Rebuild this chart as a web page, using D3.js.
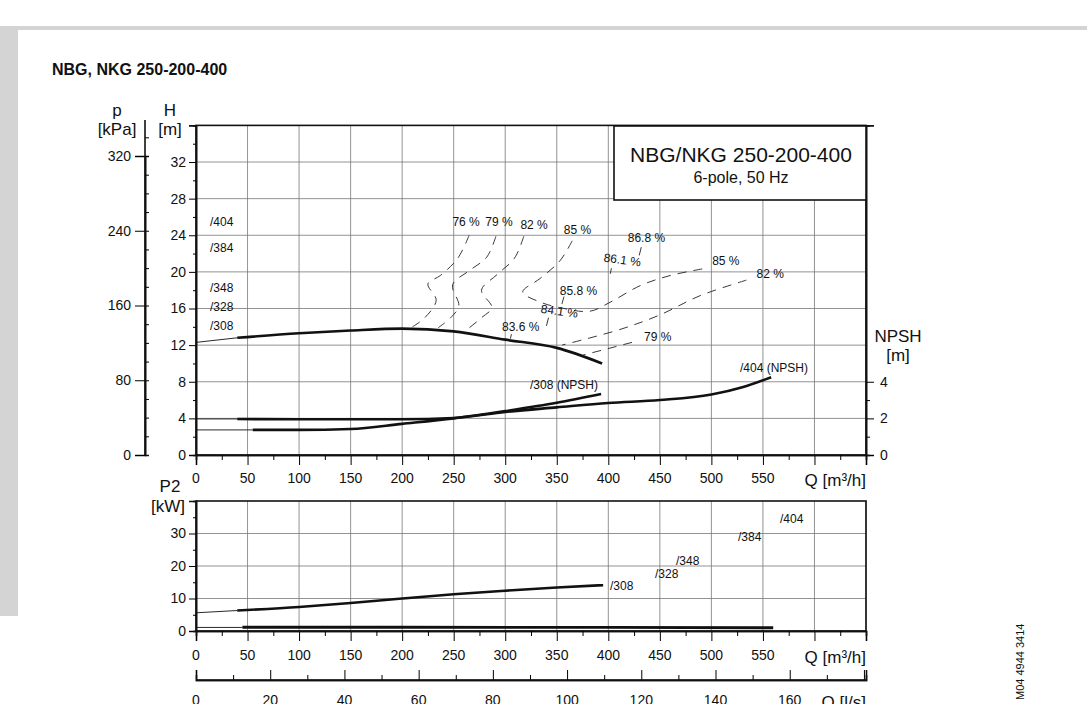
<!DOCTYPE html><html><head><meta charset="utf-8"><script src="https://cdn.jsdelivr.net/npm/d3@7"></script>
<style>body{margin:0;background:#fff}text{font-family:"Liberation Sans",Arial,sans-serif;fill:#111}</style></head><body><svg id="c" width="1087" height="704"></svg><script>
const qTicks=[0,50,100,150,200,250,300,350,400,450,500,550];
const hTicks=[0,4,8,12,16,20,24,28,32];
const pTicks=[0,80,160,240,320];
const npshTicks=[0,2,4];
const p2Ticks=[0,10,20,30];
const lsTicks=[0,20,40,60,80,100,120,140,160];
// H curve /308 [Q,H]
const hThin=[[0,12.3],[40,12.8]];
const hCurve=[[40,12.8],[100,13.3],[150,13.6],[200,13.8],[250,13.5],[300,12.6],[350,11.7],[394,10.0]];
// NPSH [Q,m]
const npsh404Thin=[[0,1.97],[40,1.97]];
const npsh404=[[40,1.97],[100,1.95],[200,1.95],[250,2.02],[300,2.35],[350,2.6],[400,2.84],[450,3.0],[500,3.3],[530,3.7],[558,4.25]];
const npsh308Thin=[[0,1.37],[55,1.37]];
const npsh308=[[55,1.37],[100,1.37],[150,1.42],[200,1.7],[250,2.0],[300,2.4],[350,2.85],[393,3.33]];
// P2 [Q,kW]
const p2Thin=[[0,5.6],[40,6.3]];
const p2_308=[[40,6.3],[100,7.4],[150,8.6],[200,10],[250,11.3],[300,12.4],[350,13.4],[395,14.1]];
const p2LowThin=[[0,1.1],[45,1.1]];
const p2Low=[[45,1.15],[200,1.15],[400,1.1],[560,1.0]];
// efficiency iso-curves [Q,H]
const eff=[
 [[265,24.0],[254,21.5],[237,19.6],[225,18.7],[233,16.9],[222,15.0],[210,14.0]],
 [[291,23.9],[282,21.6],[266,20.2],[249,18.6],[255,16.3],[248,15.1],[235,13.9]],
 [[318,23.9],[309,21.5],[292,19.7],[277,18.0],[287,16.1],[277,15.0],[263,13.7]],
 [[365,23.4],[353,21.2],[334,19.3],[317,17.8],[334,16.7],[353,16.1],[382,15.7],[402,16.7],[431,18.5],[460,19.6],[495,20.4]],
 [[534,19.1],[489,17.4],[450,15.3],[411,13.7],[355,12.0]],
 [[423,12.3],[375,10.9]],
 [[432,22.7],[430,21.8]],[[403,20.4],[402,19.8]],[[357,17.3],[355,16.5]],[[342,15.0],[340,14.1]],[[306,13.2],[305,12.7]]
];
const effLabels=[["76 %",262,25.5,0],["79 %",294,25.5,0],["82 %",328,25.1,0],["85 %",370,24.6,0],["86.8 %",437,23.7,0],["86.1 %",413,21.3,8],["85 %",514,21.2,0],["82 %",557,19.8,0],["85.8 %",371,17.9,0],["84.1 %",352,15.7,8],["83.6 %",315,14.0,0],["79 %",448,12.9,0]];
const impH=["/404","/384","/348","/328","/308"];
const impHy=[222,248,288,307,326];
const impP=[["/404",780,519],["/384",738,537],["/348",676,561],["/328",655,574],["/308",610,586]];

const svg=d3.select("#c");
const X=d3.scaleLinear().domain([0,650]).range([196,866]);
const Y=d3.scaleLinear().domain([0,36]).range([455,125.4]);
const YP=d3.scaleLinear().domain([0,320]).range([455,156]);
const YN=d3.scaleLinear().domain([0,18]).range([455,125.4]);
const Y2=d3.scaleLinear().domain([0,40]).range([631,501]);
const XL=d3.scaleLinear().domain([0,650/3.6]).range([196,866]);

svg.append("rect").attr("x",0).attr("y",26).attr("width",1087).attr("height",4).attr("fill","#d4d4d4");
svg.append("rect").attr("x",0).attr("y",30).attr("width",18).attr("height",586).attr("fill","#d4d4d4");
svg.append("text").attr("x",52).attr("y",75).attr("font-size",16).attr("font-weight","bold").text("NBG, NKG 250-200-400");

function grid(y,yt){
  const g=svg.append("g").attr("stroke","#777").attr("stroke-width",0.8);
  d3.range(50,651,50).forEach(q=>g.append("line").attr("x1",X(q)).attr("x2",X(q)).attr("y1",y.range()[0]).attr("y2",y.range()[1]));
  yt.forEach(v=>g.append("line").attr("x1",196).attr("x2",866).attr("y1",y(v)).attr("y2",y(v)));
}
grid(Y,hTicks);
grid(Y2,p2Ticks);
[Y,Y2].forEach(y=>svg.append("rect").attr("x",196).attr("y",y.range()[1]).attr("width",670).attr("height",y.range()[0]-y.range()[1]).attr("fill","none").attr("stroke","#111").attr("stroke-width",1.6));

svg.append("g").attr("transform","translate(196,0)").call(d3.axisLeft(Y).tickValues(hTicks).tickSize(7).tickFormat(d3.format("d")));
svg.append("g").attr("transform","translate(196,0)").call(d3.axisLeft(Y).tickValues(d3.range(2,36,4)).tickSize(3).tickFormat(""));
svg.append("g").attr("transform","translate(145,0)").call(d3.axisLeft(YP).tickValues(pTicks).tickSize(10).tickPadding(4));
svg.append("g").attr("transform","translate(145,0)").call(d3.axisRight(YP).tickValues(d3.range(20,341,20)).tickSize(4).tickFormat(""));
svg.append("line").attr("x1",145).attr("x2",145).attr("y1",120).attr("y2",455).attr("stroke","#111").attr("stroke-width",1.6);
svg.append("g").attr("transform","translate(866,0)").call(d3.axisRight(YN).tickValues(npshTicks).tickSize(8).tickPadding(6));
svg.append("g").attr("transform","translate(866,0)").call(d3.axisRight(YN).tickValues([1,3]).tickSize(4).tickFormat(""));
function xAxis(y,lab){
 svg.append("g").attr("transform",`translate(0,${y})`).call(d3.axisBottom(X).tickValues(qTicks.concat([600,650])).tickSize(10).tickFormat(""));
 svg.append("g").attr("transform",`translate(0,${y})`).call(d3.axisBottom(X).tickValues(d3.range(25,650,50)).tickSize(5).tickFormat(""));
 qTicks.forEach(q=>svg.append("text").attr("x",X(q)).attr("y",lab).attr("text-anchor","middle").attr("font-size",14).text(q));
 svg.append("text").attr("x",866).attr("y",lab+3).attr("text-anchor","end").attr("font-size",17).text("Q [m³/h]");
}
xAxis(455,483);xAxis(631,660);
svg.append("g").attr("transform","translate(196,0)").call(d3.axisLeft(Y2).tickValues(p2Ticks).tickSize(7).tickFormat(d3.format("d")));
svg.append("g").attr("transform","translate(196,0)").call(d3.axisLeft(Y2).tickValues([5,15,25,35]).tickSize(3).tickFormat(""));
svg.append("g").attr("transform","translate(0,680)").call(d3.axisTop(XL).tickValues(lsTicks.concat([180])).tickSize(10).tickFormat(""));
svg.append("g").attr("transform","translate(0,680)").call(d3.axisTop(XL).tickValues(d3.range(10,180,20)).tickSize(5).tickFormat(""));
svg.append("line").attr("x1",196).attr("x2",866).attr("y1",680).attr("y2",680).attr("stroke","#111").attr("stroke-width",1.6);
lsTicks.forEach(v=>svg.append("text").attr("x",XL(v)).attr("y",705).attr("text-anchor","middle").attr("font-size",14).text(v));
svg.append("text").attr("x",866).attr("y",708).attr("text-anchor","end").attr("font-size",17).text("Q [l/s]");
svg.selectAll(".tick text").attr("font-size",14).attr("fill","#111");
svg.selectAll(".domain").attr("stroke","#111").attr("stroke-width",1.6);

[["p",117,116],["[kPa]",117,135],["H",170,116],["[m]",170,135],["NPSH",898,342],["[m]",898,361],["P2",170,492],["[kW]",168,512]].forEach(([t,x,y])=>svg.append("text").attr("x",x).attr("y",y).attr("text-anchor","middle").attr("font-size",17).text(t));

svg.append("rect").attr("x",614).attr("y",126).attr("width",252).attr("height",74).attr("fill","#fff").attr("stroke","#111").attr("stroke-width",1.6);
svg.append("text").attr("x",741).attr("y",162).attr("text-anchor","middle").attr("font-size",21).text("NBG/NKG 250-200-400");
svg.append("text").attr("x",741).attr("y",183).attr("text-anchor","middle").attr("font-size",16).text("6-pole, 50 Hz");

const lh=d3.line().x(d=>X(d[0])).y(d=>Y(d[1])).curve(d3.curveMonotoneX);
const ln=d3.line().x(d=>X(d[0])).y(d=>YN(d[1])).curve(d3.curveMonotoneX);
const l2=d3.line().x(d=>X(d[0])).y(d=>Y2(d[1])).curve(d3.curveMonotoneX);
const lc=d3.line().x(d=>X(d[0])).y(d=>Y(d[1])).curve(d3.curveCatmullRom);
function path(gen,d,w){svg.append("path").attr("d",gen(d)).attr("fill","none").attr("stroke","#111").attr("stroke-width",w);}
path(lh,hThin,0.9);path(lh,hCurve,2.6);
path(ln,npsh404Thin,0.9);path(ln,npsh404,2.6);
path(ln,npsh308Thin,0.9);path(ln,npsh308,2.6);
path(l2,p2Thin,0.9);path(l2,p2_308,2.6);
path(l2,p2LowThin,0.9);path(l2,p2Low,2.8);
eff.forEach(e=>svg.append("path").attr("d",lc(e)).attr("fill","none").attr("stroke","#222").attr("stroke-width",0.9).attr("stroke-dasharray","9,7"));
effLabels.forEach(([t,q,h,r])=>svg.append("text").attr("transform",`translate(${X(q)},${Y(h)+4}) rotate(${r})`).attr("text-anchor","middle").attr("font-size",12).text(t));
impH.forEach((t,i)=>svg.append("text").attr("x",210).attr("y",impHy[i]+4).attr("font-size",12).text(t));
impP.forEach(([t,x,y])=>svg.append("text").attr("x",x).attr("y",y+4).attr("font-size",12).text(t));
svg.append("text").attr("x",740).attr("y",372).attr("font-size",12).text("/404 (NPSH)");
svg.append("text").attr("x",530).attr("y",389).attr("font-size",12).text("/308 (NPSH)");
svg.append("text").attr("transform","translate(1024,700) rotate(-90)").attr("font-size",11).text("M04 4944 3414");
</script></body></html>
